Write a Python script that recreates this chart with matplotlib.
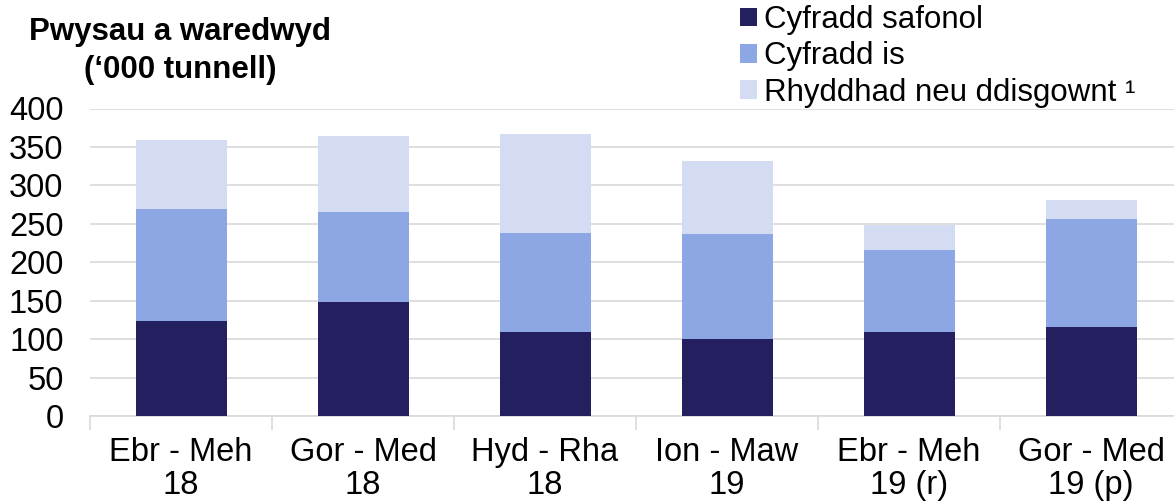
import matplotlib
matplotlib.use("Agg")
import matplotlib.pyplot as plt
from matplotlib.patches import Patch
import numpy as np

categories = ["Ebr - Meh\n18", "Gor - Med\n18", "Hyd - Rha\n18", "Ion - Maw\n19",
              "Ebr - Meh\n19 (r)", "Gor - Med\n19 (p)"]
standard = [124, 148, 109, 100, 109, 116]
reduced = [145, 118, 129, 137, 107, 140]
exempt = [90, 98, 129, 95, 32, 25]
series_names = ["Cyfradd safonol", "Cyfradd is", "Rhyddhad neu ddisgownt \u00b9"]
colors = ["#241F5E", "#8DA7E5", "#D3DCF3"]
yticks = [0, 50, 100, 150, 200, 250, 300, 350, 400]

plt.rcParams['font.family'] = ['Liberation Sans', 'DejaVu Sans']

fig = plt.figure(figsize=(11.74, 5.03), dpi=100)
ax = fig.add_axes([90/1174, 1-416/503, 1092/1174, (416-108.5)/503])

x = np.arange(len(categories))
bottom = np.zeros(len(categories))
for vals, c in zip([standard, reduced, exempt], colors):
    ax.bar(x, vals, width=0.5, bottom=bottom, color=c, zorder=3)
    bottom += np.array(vals)

ax.set_ylim(0, 400)
ax.set_xlim(-0.5, len(categories) - 0.5)
ax.set_yticks(yticks)
ax.set_yticklabels([str(t) for t in yticks], fontsize=23.5)
ax.tick_params(axis='y', length=0, pad=19)
ax.grid(axis='y', color='#D9D9D9', linewidth=1.2, zorder=0)
for s in ['left', 'right', 'top']:
    ax.spines[s].set_visible(False)
ax.spines['bottom'].set_color('#D9D9D9')
ax.spines['bottom'].set_linewidth(1.2)

ax.set_xticks(x)
ax.set_xticklabels(categories, fontsize=23.5, linespacing=1.1)
ax.tick_params(axis='x', which='major', length=0, pad=15)
ax.set_xticks(np.arange(-0.5, len(categories), 1.0), minor=True)
ax.tick_params(axis='x', which='minor', length=10, color='#D9D9D9', width=1.2)

fig.text(180/1174, 1-51/503, "Pwysau a waredwyd\n(\u2018000 tunnell)", ha='center', va='center',
         fontsize=22.5, fontweight='bold', linespacing=1.32)

handles = [Patch(facecolor=c, edgecolor='none') for c in colors]
leg = fig.legend(handles, series_names, loc='upper left', bbox_to_anchor=(737/1174, 1-2/503),
                 frameon=False, fontsize=22.5, handlelength=0.55, handleheight=0.55,
                 handletextpad=0.2, labelspacing=0.2, borderaxespad=0, borderpad=0.1)

fig.savefig("out.png", dpi=100)
